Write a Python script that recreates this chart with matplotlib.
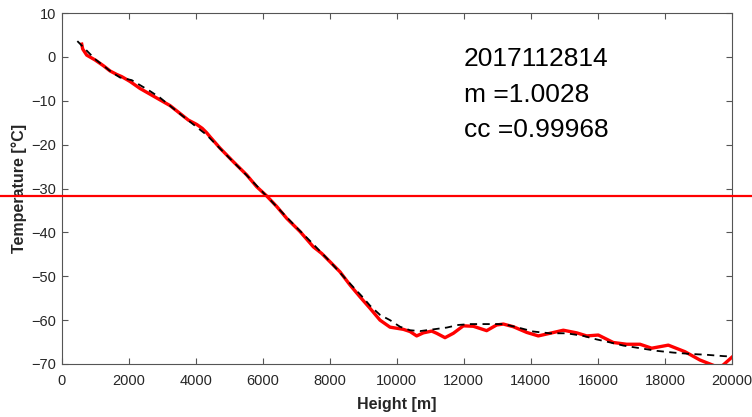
import matplotlib
matplotlib.use("Agg")
import matplotlib.pyplot as plt
import matplotlib.transforms as mtransforms

plt.rcParams['font.family'] = ['Liberation Sans', 'DejaVu Sans']

# Measured temperature profile (red)
height_obs = [603, 632, 752, 1000, 1247, 1447, 1646, 1796, 2043, 2342, 2640, 2938,
              3237, 3535, 3783, 4033, 4200, 4331, 4429, 4728, 5125, 5523, 5822, 6120,
              6419, 6717, 7114, 7512, 7761, 8009, 8307, 8606, 8904, 9202, 9500, 9798,
              10196, 10395, 10594, 10793, 11042, 11191, 11439, 11688, 11986, 12284,
              12682, 12980, 13179, 13477, 13876, 14222, 14571, 14968, 15368, 15666,
              16012, 16459, 16859, 17256, 17605, 18100, 18598, 19045, 19443, 19600,
              19741, 19990]
temp_obs = [2.9, 1.8, 0.4, -0.7, -2.0, -3.2, -4.0, -4.5, -5.6, -7.2, -8.5, -9.8,
            -11.1, -12.9, -14.4, -15.4, -16.3, -17.3, -18.2, -20.8, -23.9, -26.9, -29.6, -31.7,
            -34.1, -36.8, -39.8, -43.3, -44.8, -46.7, -49.0, -52.0, -54.7, -57.3, -60.0, -61.6,
            -62.1, -62.6, -63.6, -62.9, -62.5, -63.0, -64.0, -63.0, -61.3, -61.4,
            -62.4, -61.1, -60.9, -61.5, -62.8, -63.6, -63.0, -62.3, -62.9, -63.6,
            -63.4, -65.1, -65.5, -65.5, -66.4, -65.7, -67.2, -69.1, -70.3, -70.8,
            -70.2, -68.5]

# Fitted profile (black dashed)
height_fit = [472, 1000, 1497, 1745, 2094, 2640, 2938, 3684, 4331, 5000, 5500, 6000,
              6500, 7000, 7500, 8000, 8500, 9000, 9202, 9500, 9798, 10096, 10395, 10693,
              11091, 11489, 11837, 12200, 12582, 13179, 13577, 14073, 14571, 15068,
              15565, 15964, 16262, 16758, 17256, 17754, 18250, 18747, 19245, 19741, 19990]
temp_fit = [3.6, -0.5, -3.5, -4.7, -5.3, -7.8, -9.3, -13.9, -17.8, -23.0, -26.8, -30.8,
            -34.8, -38.8, -42.6, -46.6, -50.8, -54.9, -56.7, -58.8, -60.0, -61.5, -62.3, -62.5,
            -62.1, -61.7, -61.1, -60.9, -60.9, -60.9, -61.6, -62.6, -63.0, -63.0,
            -63.6, -64.4, -64.9, -65.8, -66.4, -67.0, -67.4, -67.7, -67.9, -68.2, -68.3]

threshold = -31.7
labels = ["2017112814", "m =1.0028", "cc =0.99968"]
label_y = [-0.4, -8.6, -16.6]

fig = plt.figure(figsize=(7.52, 4.17), dpi=100)
ax = fig.add_axes([0.0818, 0.1271, 0.8916, 0.8417])

ax.plot(height_fit, temp_fit, '--', color='black', lw=1.3, dashes=(4, 3), zorder=3)
ax.plot(height_obs, temp_obs, '-', color='#ff0000', lw=2.4, zorder=2)

trans = mtransforms.blended_transform_factory(fig.transFigure, ax.transData)
ax.plot([0, 1], [threshold, threshold], color='#ff0000', lw=1.6,
        transform=trans, clip_on=False, zorder=4)

for s, y in zip(labels, label_y):
    ax.text(12000, y, s, fontsize=19, ha='left', va='center', color='black')

ax.set_xlim(0, 20000)
ax.set_ylim(-70, 10)
ax.set_xticks(range(0, 20001, 2000))
ax.set_yticks(range(-70, 11, 10))

gray = '#262626'
for sp in ax.spines.values():
    sp.set_color('#555555')
    sp.set_linewidth(0.8)
ax.tick_params(direction='in', length=4, width=0.8, color='#555555',
               labelsize=10.5, labelcolor=gray, top=True, right=True)
ax.tick_params(axis='x', pad=7)
ax.tick_params(axis='y', pad=4)

ax.set_xlabel('Height [m]', fontsize=11.5, fontweight='bold', color=gray, labelpad=7)
ax.set_ylabel('Temperature [°C]', fontsize=11.5, fontweight='bold', color=gray, labelpad=3)

fig.savefig('out.png', dpi=100)
